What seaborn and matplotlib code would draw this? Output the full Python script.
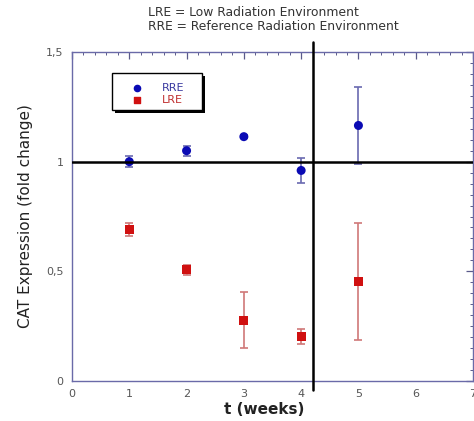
import numpy as np
import pandas as pd
import matplotlib
matplotlib.use("Agg")
import matplotlib.pyplot as plt
import seaborn as sns
from matplotlib.ticker import MultipleLocator, FuncFormatter
from matplotlib.patches import Rectangle

weeks = [1, 2, 3, 4, 5]
rre_values = [1.00, 1.05, 1.114, 0.96, 1.165]
rre_errors = [0.025, 0.022, 0.008, 0.058, 0.175]
lre_values = [0.692, 0.508, 0.278, 0.202, 0.453]
lre_errors = [0.03, 0.023, 0.126, 0.033, 0.266]
series_names = ["RRE", "LRE"]
x_ticks = [0, 1, 2, 3, 4, 5, 6, 7]
y_ticks = [0, 0.5, 1, 1.5]

sns.set_theme(style="white")
plt.rcParams['font.family'] = ['DejaVu Sans']

df = pd.DataFrame({
    "t": weeks + weeks,
    "val": rre_values + lre_values,
    "err": rre_errors + lre_errors,
    "series": ["RRE"] * len(weeks) + ["LRE"] * len(weeks),
})

fig = plt.figure(figsize=(4.74, 4.21), dpi=100)
ax = fig.add_axes([72/474, 40/421, 401/474, 329/421])

colors = {"RRE": "#0a0ab4", "LRE": "#d01010"}
ecolors = {"RRE": "#6a6ab0", "LRE": "#d07878"}

for name in series_names:
    sub = df[df.series == name]
    ax.errorbar(sub.t, sub.val, yerr=sub.err, fmt="none", ecolor=ecolors[name],
                elinewidth=1.2, capsize=3, capthick=1.2, zorder=2)

sns.scatterplot(data=df, x="t", y="val", hue="series", style="series",
                palette=colors, markers={"RRE": "o", "LRE": "s"},
                s=42, edgecolor="none", ax=ax, legend=False, zorder=3)

ax.set_xlim(0, 7)
ax.set_ylim(0, 1.5)
ax.set_xticks(x_ticks)
ax.set_yticks(y_ticks)
ax.xaxis.set_minor_locator(MultipleLocator(0.2))
ax.yaxis.set_minor_locator(MultipleLocator(0.05))
fmt = FuncFormatter(lambda v, p: ("%g" % v).replace(".", ","))
ax.yaxis.set_major_formatter(fmt)
ax.xaxis.set_major_formatter(fmt)
ax.tick_params(which="both", direction="in", top=True, right=True,
               color="#5a5a8a", labelcolor="#555555", labelsize=8)
ax.tick_params(which="major", length=5, width=0.9, pad=6)
ax.tick_params(which="minor", length=2.5, width=0.7)
for sp in ax.spines.values():
    sp.set_color("#6a6aa8")
    sp.set_linewidth(1.0)

ax.set_xlabel("t (weeks)", fontsize=11, fontweight="bold", color="#222222")
ax.xaxis.set_label_coords((264 - 72) / 401, -21 / 329)
ax.set_ylabel("CAT Expression (fold change)", fontsize=11, color="#222222")
ax.yaxis.set_label_coords(-(72 - 33) / 401, 0.5)

# reference lines
ax.axhline(1.0, color="black", lw=1.8, zorder=4)
ax.plot([4.2, 4.2], [-0.04, 1.545], color="black", lw=1.8, clip_on=False, zorder=4)

# legend box with shadow
shadow = Rectangle((0.75, 1.222), 1.57, 0.168, facecolor="black", edgecolor="none", zorder=4)
box = Rectangle((0.70, 1.236), 1.57, 0.168, facecolor="white", edgecolor="black", lw=1.0, zorder=5)
ax.add_patch(shadow)
ax.add_patch(box)
ax.scatter([1.13], [1.336], marker="o", s=20, color=colors["RRE"], zorder=6)
ax.scatter([1.13], [1.279], marker="s", s=16, color=colors["LRE"], zorder=6)
ax.text(1.57, 1.336, "RRE", color="#3a3aa0", fontsize=8, va="center", zorder=6)
ax.text(1.57, 1.279, "LRE", color="#c03030", fontsize=8, va="center", zorder=6)

fig.text(148/474, 1 - 13/421, "LRE = Low Radiation Environment",
         fontsize=8.9, color="#333333", va="center", ha="left")
fig.text(148/474, 1 - 27/421, "RRE = Reference Radiation Environment",
         fontsize=8.9, color="#333333", va="center", ha="left")

fig.savefig("out.png", dpi=100)
